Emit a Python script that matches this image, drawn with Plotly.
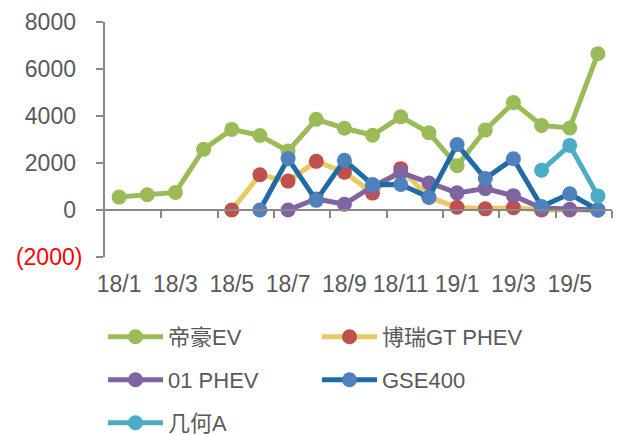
import plotly.graph_objects as go

months = ["18/1", "18/2", "18/3", "18/4", "18/5", "18/6", "18/7", "18/8", "18/9",
          "18/10", "18/11", "18/12", "19/1", "19/2", "19/3", "19/4", "19/5", "19/6"]
tick_labels_y = ["(2000)", "0", "2000", "4000", "6000", "8000"]
tick_vals_y = [-2000, 0, 2000, 4000, 6000, 8000]

dihao_ev = [550, 650, 750, 2580, 3430, 3170, 2510, 3860, 3480, 3180, 3970, 3290, 1880, 3400, 4570, 3600, 3490, 6650]
borui_gt_phev = [None, None, None, None, 0, 1500, 1230, 2070, 1610, 720, 1760, 540, 120, 50, 100, 0, 0, 0]
phev_01 = [None, None, None, None, None, None, 0, 470, 250, 1000, 1600, 1150, 730, 910, 610, 80, 30, 0]
gse400 = [None, None, None, None, None, 0, 2190, 410, 2120, 1080, 1090, 540, 2790, 1340, 2180, 150, 690, 0]
geometry_a = [None] * 15 + [1690, 2750, 600]

series = [
    ("帝豪EV", dihao_ev, "#9BBB59", "#9BBB59", "legend"),
    ("博瑞GT PHEV", borui_gt_phev, "#E9C965", "#C0504D", "legend"),
    ("01 PHEV", phev_01, "#8064A2", "#8064A2", "legend2"),
    ("GSE400", gse400, "#1F6BA5", "#4F81BD", "legend2"),
    ("几何A", geometry_a, "#4BACC6", "#4BACC6", "legend3"),
]

xi = list(range(len(months)))
fig = go.Figure()
for name, vals, lc, mc, lg in series:
    fig.add_trace(go.Scatter(
        x=xi, y=vals, name=name, mode="lines+markers",
        line=dict(color=lc, width=5),
        marker=dict(color=mc, size=15),
        legend=lg, connectgaps=False,
    ))
# helper trace for the axis drawn at y = 0
fig.add_trace(go.Scatter(x=[], y=[], xaxis="x2", showlegend=False, hoverinfo="skip"))

gray = "#595959"
font_main = "Liberation Sans, Arial, Noto Sans CJK SC, sans-serif"
# negative numbers in red with parentheses; positive ones padded like an accounting format
ytext = [f"<span style='color:#FF0000'>{t}</span>" if t.startswith("(") else t + "\u00a0"
         for t in tick_labels_y]

# the page body adds an 8px offset, compensated in the margins
fig.update_layout(
    width=622, height=435,
    margin=dict(l=97, r=18, t=14, b=186, autoexpand=False),
    paper_bgcolor="white", plot_bgcolor="white",
    font=dict(family=font_main, size=22, color=gray),
    xaxis=dict(
        range=[-0.5, 17.5], tickmode="array", tickvals=xi[::2], ticktext=months[::2],
        showline=False, ticks="", showgrid=False, zeroline=False, automargin=False,
        ticklabelstandoff=11, tickfont=dict(size=23, color=gray),
    ),
    xaxis2=dict(
        range=[-0.5, 17.5], overlaying="x", anchor="free", position=0.2,
        showline=True, linecolor="#888888", linewidth=2, automargin=False,
        tickmode="array", tickvals=[1.5, 3.5, 5.5, 7.5, 9.5, 11.5, 13.5, 15.5, 17.5],
        ticks="outside", ticklen=7, tickwidth=2, tickcolor="#888888",
        showticklabels=False, showgrid=False, zeroline=False,
    ),
    yaxis=dict(
        range=[-2000, 8000], tickmode="array", tickvals=tick_vals_y, ticktext=ytext,
        showline=True, linecolor="#888888", linewidth=2, automargin=False,
        ticks="outside", ticklen=7, tickwidth=2, tickcolor="#888888",
        showgrid=False, zeroline=False, ticklabelstandoff=9,
        tickfont=dict(size=23, color=gray),
    ),
    showlegend=True,
)

legend_common = dict(
    orientation="h", xref="container", yref="container",
    xanchor="left", yanchor="middle", itemwidth=55,
    entrywidth=144, entrywidthmode="pixels",
    font=dict(family=font_main, size=22, color=gray),
    bgcolor="rgba(0,0,0,0)", itemclick=False, itemdoubleclick=False,
)
fig.update_layout(
    legend=dict(x=95 / 622, y=1 - 329 / 435, **legend_common),
    legend2=dict(x=95 / 622, y=1 - 372 / 435, **legend_common),
    legend3=dict(x=95 / 622, y=1 - 415 / 435, **legend_common),
)

fig.write_html("out.html")
